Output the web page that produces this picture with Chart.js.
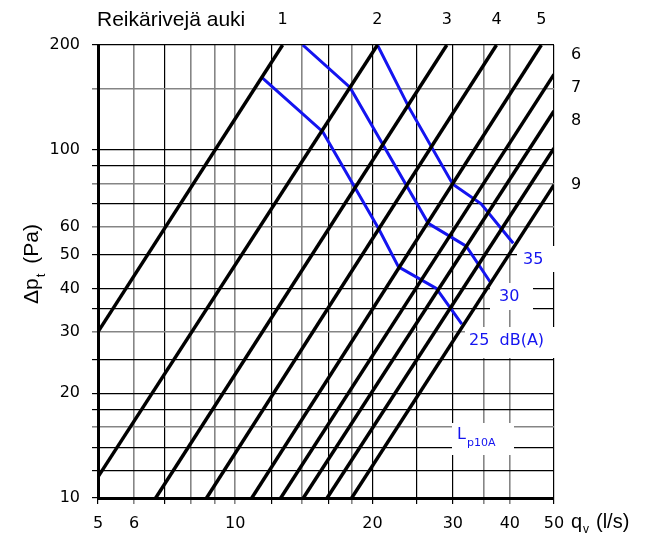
<!DOCTYPE html>
<html>
<head>
<meta charset="utf-8">
<script src="https://cdn.jsdelivr.net/npm/chart.js@4"></script>
<style>
  html, body { margin: 0; padding: 0; background: #fff; }
  canvas { display: block; }
</style>
</head>
<body>
<canvas id="myChart" width="650" height="540"></canvas>
<script>
const rows = ['1', '2', '3', '4', '5', '6', '7', '8', '9'];
const rowStartQ  = [5, 5, 6.69, 8.65, 10.87, 12.58, 14.1, 15.9, 18.0];
const rowStartDp = [30, 11.5, 10, 10, 10, 10, 10, 10, 10];
const rowEndQ    = [12.7, 20.5, 29.1, 37.4, 46.9, 50, 50, 50, 50];
const rowEndDp   = [200, 200, 200, 200, 200, 164.7, 129.2, 101, 79.3];

// Lp10A sound level curves
const noise25Q  = [11.48, 15.55, 20.6, 22.8, 27.6, 31.4];
const noise25Dp = [160.6, 112.7, 59.5, 46.1, 40.0, 31.6];
const noise30Q  = [14.06, 17.85, 26.5, 32.1, 36.2];
const noise30Dp = [200, 151, 61.5, 52.9, 41.8];
const noise35Q  = [20.5, 24.1, 30, 34.6, 40.7];
const noise35Dp = [200, 131.5, 79.7, 70, 53.9];

// grid and tick labels
const xGrid   = [5, 6, 7, 8, 9, 10, 12, 14, 16, 18, 20, 25, 30, 35, 40, 50];
const xLabels = [5, 6, 10, 20, 30, 40, 50];
const xGray   = [6, 8, 9, 10, 14, 18, 35, 40];
const yGrid   = [10, 12, 14, 16, 18, 20, 25, 30, 35, 40, 50, 60, 70, 80, 90, 100, 150, 200];
const yLabels = [10, 20, 30, 40, 50, 60, 100, 200];
const yGray   = [16, 30, 60, 80, 150];

const GRAY = '#858585';
const BLUE = '#1414f0';
const SANS = '"Liberation Sans", Arial, sans-serif';
const NUMS = '"DejaVu Sans", Verdana, sans-serif';
const numFont = '16px ' + NUMS;

function pts(qs, dps) {
    return qs.map((q, i) => ({ x: q, y: dps[i] }));
}

const datasets = [];
rows.forEach((r, i) => {
    datasets.push({
        label: r,
        data: [{ x: rowStartQ[i], y: rowStartDp[i] }, { x: rowEndQ[i], y: rowEndDp[i] }],
        borderColor: '#000',
        borderWidth: 3.5
    });
});
[[noise25Q, noise25Dp], [noise30Q, noise30Dp], [noise35Q, noise35Dp]].forEach(([q, dp]) => {
    datasets.push({ data: pts(q, dp), borderColor: BLUE, borderWidth: 3 });
});

// white boxes behind the blue labels, then the texts
const labelPlugin = {
    id: 'labels',
    beforeDatasetsDraw(chart) {
        const c = chart.ctx;
        c.save();
        c.fillStyle = '#fff';
        c.fillRect(517, 246, 44, 26);
        c.fillRect(490, 283, 43, 27);
        c.fillRect(465, 327, 90, 31);
        c.fillRect(452, 423, 62, 32);
        c.restore();
    },
    afterDraw(chart) {
        const c = chart.ctx;
        const xs = chart.scales.x;
        c.save();
        c.textBaseline = 'middle';
        c.fillStyle = '#000';

        c.font = '21px ' + SANS;
        c.textAlign = 'left';
        c.fillText('Reikärivejä auki', 97, 20);

        c.font = numFont;
        c.textAlign = 'center';
        for (let i = 0; i < 5; i++) {
            c.fillText(rows[i], xs.getPixelForValue(rowEndQ[i]), 20);
        }
        const sideY = [55, 88, 121, 185];
        c.textAlign = 'left';
        for (let i = 5; i < 9; i++) {
            c.fillText(rows[i], 571, sideY[i - 5]);
        }

        // axis titles with subscripts
        c.font = '20px ' + SANS;
        c.fillText('q', 571, 522);
        c.font = '12px ' + SANS;
        c.fillText('v', 583, 530);
        c.font = '20px ' + SANS;
        c.fillText('(l/s)', 596, 522);

        c.translate(32, 264);
        c.rotate(-Math.PI / 2);
        c.font = '21px ' + SANS;
        const w1 = c.measureText('Δp').width;
        c.font = '13px ' + SANS;
        const w2 = c.measureText('t').width;
        c.font = '21px ' + SANS;
        const w3 = c.measureText(' (Pa)').width;
        let x0 = -(w1 + w2 + 5 + w3) / 2;
        c.fillText('Δp', x0, 0);
        c.font = '13px ' + SANS;
        c.fillText('t', x0 + w1 + 1, 9);
        c.font = '21px ' + SANS;
        c.fillText(' (Pa)', x0 + w1 + w2 + 5, 0);
        c.setTransform(1, 0, 0, 1, 0, 0);

        // blue labels
        c.fillStyle = BLUE;
        c.font = numFont;
        c.textAlign = 'left';
        c.fillText('35', 523, 260);
        c.fillText('30', 499, 297);
        c.fillText('25  dB(A)', 469, 341);
        c.font = '16px ' + NUMS;
        c.fillText('L', 457, 435);
        c.font = '11px ' + NUMS;
        c.fillText('p10A', 467, 443);
        c.restore();
    }
};

new Chart(document.getElementById('myChart').getContext('2d'), {
    type: 'scatter',
    data: { datasets: datasets },
    plugins: [labelPlugin],
    options: {
        responsive: false,
        animation: false,
        showLine: true,
        layout: { padding: { left: 0, right: 96, top: 45, bottom: 0 } },
        elements: { point: { radius: 0, hoverRadius: 0 }, line: { tension: 0 } },
        plugins: { legend: { display: false }, tooltip: { enabled: false } },
        scales: {
            x: {
                type: 'logarithmic',
                min: 5,
                max: 50,
                afterBuildTicks: (s) => { s.ticks = xGrid.map(v => ({ value: v })); },
                afterFit: (s) => { s.height = 42; },
                border: { display: true, color: '#000', width: 3 },
                grid: {
                    color: (ctx) => xGray.includes(ctx.tick && ctx.tick.value) ? GRAY : '#000',
                    lineWidth: (ctx) => xGray.includes(ctx.tick && ctx.tick.value) ? 1.6 : 1.2,
                    tickLength: 6
                },
                ticks: {
                    autoSkip: false,
                    maxRotation: 0,
                    padding: 10,
                    color: '#000',
                    font: { family: NUMS, size: 16 },
                    callback: (v) => xLabels.includes(v) ? String(v) : ''
                }
            },
            y: {
                type: 'logarithmic',
                min: 10,
                max: 200,
                afterBuildTicks: (s) => { s.ticks = yGrid.map(v => ({ value: v })); },
                afterFit: (s) => { s.width = 98; },
                border: { display: true, color: '#000', width: 3 },
                grid: {
                    color: (ctx) => yGray.includes(ctx.tick && ctx.tick.value) ? GRAY : '#000',
                    lineWidth: (ctx) => yGray.includes(ctx.tick && ctx.tick.value) ? 1.6 : 1.2,
                    tickLength: 6
                },
                ticks: {
                    autoSkip: false,
                    padding: 12,
                    color: '#000',
                    font: { family: NUMS, size: 16 },
                    callback: (v) => yLabels.includes(v) ? String(v) : ''
                }
            }
        }
    }
});
</script>
</body>
</html>
